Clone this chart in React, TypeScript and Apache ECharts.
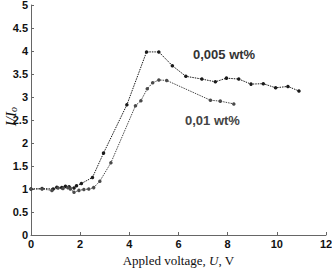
import React, { useEffect, useRef } from "react";
import * as echarts from "echarts";

const xTicks = { min: 0, max: 12, interval: 2 };
const yTicks = { min: 0, max: 5, interval: 0.5 };

const series005: [number, number][] = [
  [0, 1.0], [0.45, 1.01], [0.9, 1.0], [1.05, 1.04], [1.25, 1.03], [1.4, 1.06],
  [1.55, 1.05], [1.75, 1.02], [1.85, 1.07], [2.05, 1.12], [2.5, 1.25], [2.95, 1.78],
  [3.9, 2.83], [4.7, 3.98], [5.2, 3.98], [5.75, 3.68], [6.3, 3.45], [6.95, 3.39],
  [7.5, 3.33], [7.95, 3.41], [8.45, 3.39], [8.95, 3.28], [9.45, 3.29], [9.95, 3.2],
  [10.45, 3.23], [10.9, 3.13],
];

const series001: [number, number][] = [
  [0, 1.0], [0.45, 1.0], [0.85, 0.97], [1.1, 1.02], [1.3, 1.01], [1.5, 1.03],
  [1.6, 1.0], [1.75, 0.93], [1.95, 0.97], [2.15, 0.99], [2.35, 1.0], [2.55, 1.03],
  [2.8, 1.17], [3.25, 1.57], [4.25, 2.81], [4.47, 2.92], [4.73, 3.18], [4.95, 3.31],
  [5.2, 3.37], [5.52, 3.36], [7.3, 2.93], [7.7, 2.91], [8.25, 2.85],
];

const seriesNames = ["0,005 wt%", "0,01 wt%"];

export default function App() {
  const ref = useRef<HTMLDivElement>(null);
  useEffect(() => {
    if (!ref.current) return;
    const chart = echarts.init(ref.current, undefined, { renderer: "svg" });
    const axisLabelStyle = {
      fontFamily: "Liberation Sans, Arial, sans-serif",
      fontWeight: "bold" as const,
      fontSize: 11,
      color: "#111",
    };
    const serif = "Liberation Serif, Times New Roman, serif";
    chart.setOption({
      animation: false,
      grid: { left: 31, right: 6, top: 5, bottom: 33, containLabel: false, outerBoundsMode: "none" },
      xAxis: {
        type: "value",
        min: xTicks.min,
        max: xTicks.max,
        interval: xTicks.interval,
        splitLine: { show: false },
        axisLine: { lineStyle: { color: "#666", width: 1 } },
        axisTick: { inside: true, length: 3, lineStyle: { color: "#666" } },
        axisLabel: { ...axisLabelStyle, margin: 3 },
        name: "{n|Appled voltage, }{i|U}{n|, V}",
        nameLocation: "middle",
        nameGap: 19,
        nameTextStyle: {
          rich: {
            n: { fontFamily: serif, fontSize: 13, color: "#111" },
            i: { fontFamily: serif, fontSize: 13, fontStyle: "italic", color: "#111" },
          },
        },
      },
      yAxis: {
        type: "value",
        min: yTicks.min,
        max: yTicks.max,
        interval: yTicks.interval,
        splitLine: { show: false },
        axisLine: { show: true, lineStyle: { color: "#666", width: 1 } },
        axisTick: { show: true, inside: true, length: 3, lineStyle: { color: "#666" } },
        axisLabel: { ...axisLabelStyle, margin: 3 },
      },
      series: [
        {
          name: seriesNames[0],
          type: "line",
          data: series005,
          symbol: "circle",
          symbolSize: 3.5,
          itemStyle: { color: "#1a1a1a" },
          lineStyle: { color: "#1a1a1a", width: 1, type: [1.5, 1] },
        },
        {
          name: seriesNames[1],
          type: "line",
          data: series001,
          symbol: "circle",
          symbolSize: 3.5,
          itemStyle: { color: "#4a4a4a" },
          lineStyle: { color: "#4a4a4a", width: 1, type: [1.5, 1] },
        },
      ],
      graphic: [
        {
          type: "text",
          left: 3,
          top: 107,
          rotation: Math.PI / 2,
          style: {
            text: "{i|I/I}{s|o}",
            rich: {
              i: { fontFamily: serif, fontSize: 15, fontStyle: "italic", fill: "#111" },
              s: { fontFamily: serif, fontSize: 10, fontStyle: "italic", fill: "#111", padding: [6, 0, 0, 0] },
            },
          },
        },
        {
          type: "text",
          left: 193,
          top: 48,
          style: { text: seriesNames[0], fontFamily: "Liberation Sans, Arial, sans-serif", fontWeight: "bold", fontSize: 13, fill: "#333" },
        },
        {
          type: "text",
          left: 185,
          top: 114,
          style: { text: seriesNames[1], fontFamily: "Liberation Sans, Arial, sans-serif", fontWeight: "bold", fontSize: 13, fill: "#444" },
        },
      ],
    });
    return () => chart.dispose();
  }, []);
  return (
    <div
      ref={ref}
      style={{ position: "fixed", left: 0, top: 0, width: 332, height: 268, background: "#fff" }}
    />
  );
}
